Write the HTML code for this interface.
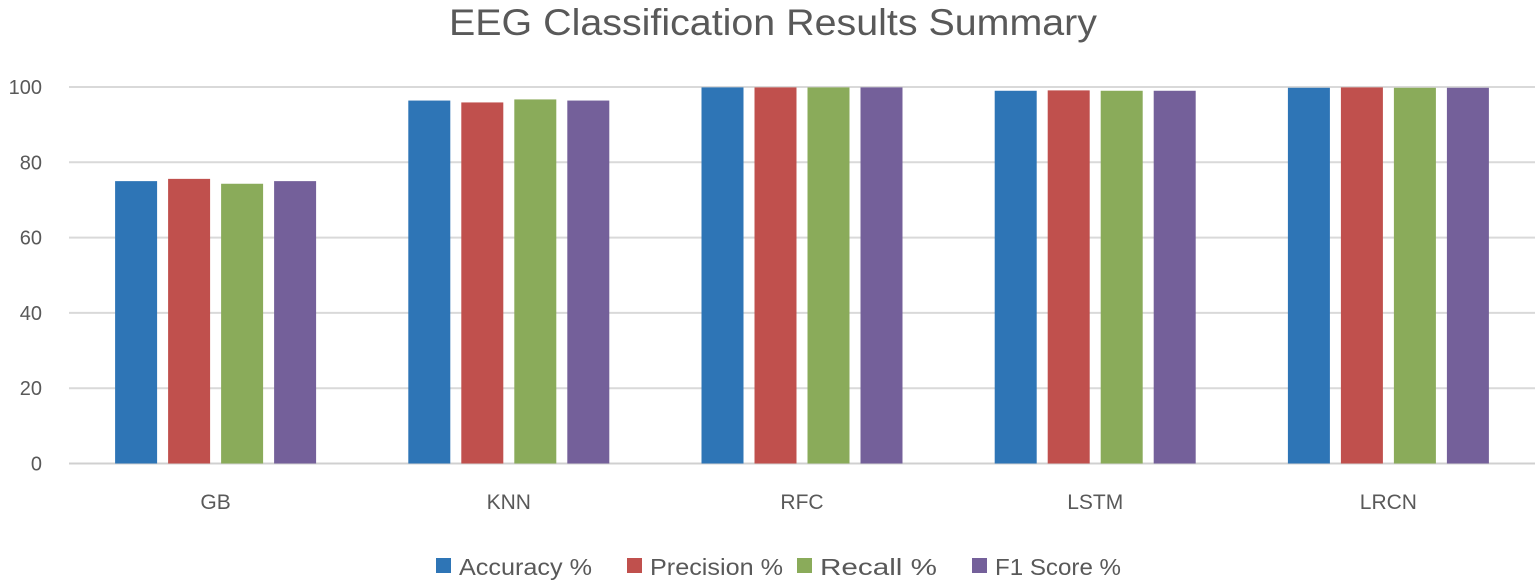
<!DOCTYPE html>
<html><head><meta charset="utf-8"><style>
body{margin:0;background:#fff;}
svg text{font-family:"Liberation Sans",sans-serif;}
</style></head><body>
<svg id="chart" width="1535" height="580" xmlns="http://www.w3.org/2000/svg">
<text x="773" y="35" text-anchor="middle" font-size="37" textLength="648" lengthAdjust="spacingAndGlyphs" fill="#595959">EEG Classification Results Summary</text>
<g id="grid"></g>
<g id="bars"></g>
<g id="axis"></g>
<g id="legend"></g>
</svg>
<script>
const categories = ["GB","KNN","RFC","LSTM","LRCN"];
const seriesNames = ["Accuracy %","Precision %","Recall %","F1 Score %"];
const accuracy = [75.0,96.4,99.9,99.0,99.8];
const precision = [75.6,95.9,99.9,99.1,99.9];
const recall = [74.3,96.7,99.9,99.0,99.8];
const f1 = [75.0,96.4,99.9,99.0,99.8];
const yTicks = [0,20,40,60,80,100];
const series = [accuracy,precision,recall,f1];
const colors = ["#2e75b6","#c0504d","#8aab5a","#74609a"];
const NS="http://www.w3.org/2000/svg";
const x0=69,x1=1535,y0=463.5,yTop=87;
const y=v=>y0-(v/100)*(y0-yTop);
const bandW=(x1-x0)/categories.length;
const barW=42,step=53;
function mk(tag,attrs,parent){const e=document.createElementNS(NS,tag);for(const k in attrs)e.setAttribute(k,attrs[k]);parent.appendChild(e);return e;}
const grid=document.getElementById('grid'),bars=document.getElementById('bars'),axis=document.getElementById('axis'),legend=document.getElementById('legend');
yTicks.forEach(t=>{
  const l=mk('line',{x1:x0,x2:x1,y1:y(t),y2:y(t),stroke:t===0?'#d0d0d0':'#d9d9d9','stroke-width':2},grid);
  
  
  const tx=mk('text',{x:42,y:y(t)+7,'text-anchor':'end','font-size':20,fill:'#595959'},axis);
  tx.textContent=t;
  
  
});
categories.forEach((c,i)=>{
  const cx=x0+bandW*(i+0.5);
  series.forEach((s,j)=>{
    const bx=cx-(step*1.5)-barW/2+j*step;
    const r=mk('rect',{x:bx,y:y(s[i]),width:barW,height:y0-y(s[i]),fill:colors[j]},bars);
    
    
  });
  const tx=mk('text',{x:cx,y:509,'text-anchor':'middle','font-size':21,fill:'#595959'},axis);
  tx.textContent=c;
  
  
});
const lx=[436,627,797,972];
const lw=[133,133,117,126];
seriesNames.forEach((n,j)=>{
  const g=mk('g',{},legend);
  
  
  mk('rect',{x:lx[j],y:558,width:15,height:15,fill:colors[j]},g);
  const t=mk('text',{x:lx[j]+23,y:575,'font-size':23,fill:'#595959',textLength:lw[j],lengthAdjust:'spacingAndGlyphs'},g);
  t.textContent=n;
});
</script>
</body></html>
